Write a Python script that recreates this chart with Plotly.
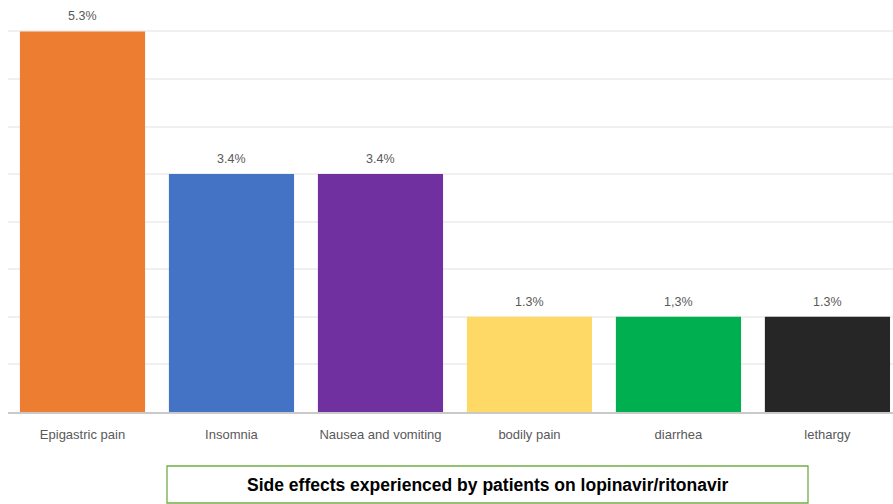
import plotly.graph_objects as go

categories = ["Epigastric pain", "Insomnia", "Nausea and vomiting", "bodily pain", "diarrhea", "lethargy"]
patients = [8, 5, 5, 2, 2, 2]
labels = ["5.3%", "3.4%", "3.4%", "1.3%", "1,3%", "1.3%"]
colors = ["#ED7D31", "#4472C4", "#7030A0", "#FFD966", "#00B050", "#262626"]
title_text = "Side effects experienced by patients on lopinavir/ritonavir"

FONT = "Liberation Sans Narrow, Arial Narrow, Liberation Sans, Arial"

fig = go.Figure(go.Bar(
    x=categories, y=patients,
    marker=dict(color=colors, line=dict(width=0)),
    cliponaxis=False, width=0.84,
))

for c, v, lab in zip(categories, patients, labels):
    fig.add_annotation(x=c, y=v, text=lab, showarrow=False, yanchor="middle",
                       yshift=15, font=dict(size=12.5, color="#595959", family=FONT))

W, H = 893, 504
l, r, t, b = 8, 0, 0, 92
fig.update_layout(
    width=W, height=H, margin=dict(l=l, r=r, t=t, b=b),
    paper_bgcolor="white", plot_bgcolor="white", showlegend=False,
    font=dict(family=FONT, color="#595959"),
)
fig.update_xaxes(range=[-0.5, 5.44], showline=True, linecolor="#c9c9c9", linewidth=1.5,
                 ticks="", ticklabelstandoff=10, tickfont=dict(size=13, color="#595959"), showgrid=False)
fig.update_yaxes(range=[0, 8.66], dtick=1, showgrid=True, gridcolor="#f0f0f0", gridwidth=1.5,
                 showticklabels=False, zeroline=False, ticks="")

ph = H - t - b
pw = W - l - r
def px(xp): return (xp - l) / pw
def py(yp): return (H - b - yp) / ph

fig.add_shape(type="rect", xref="paper", yref="paper",
              x0=px(167), x1=px(808), y0=py(503), y1=py(466),
              line=dict(color="#70AD47", width=1.3), fillcolor="white")
fig.add_annotation(xref="paper", yref="paper", x=px(487.5), y=py(485), text="<b>" + title_text + "</b>",
                   showarrow=False, xanchor="center", yanchor="middle",
                   font=dict(size=17.5, color="black", family=FONT))

fig.write_html("out.html")
